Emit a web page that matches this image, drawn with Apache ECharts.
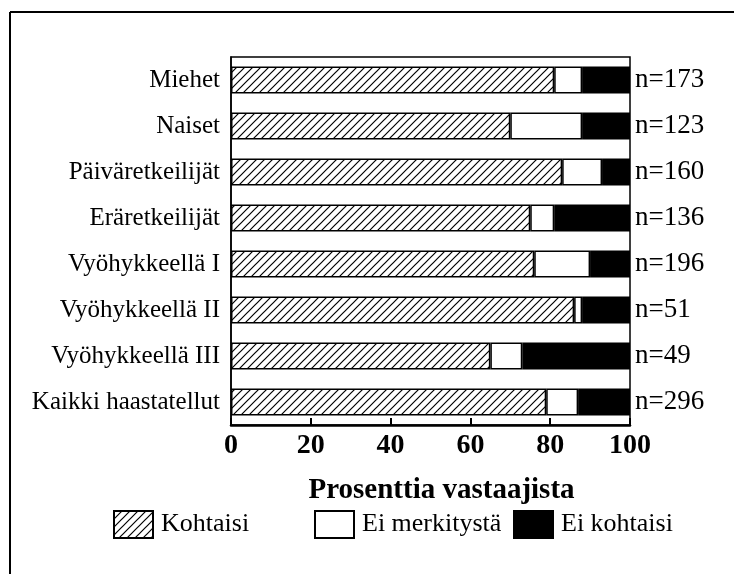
<!DOCTYPE html>
<html>
<head>
<meta charset="utf-8">
<script src="https://cdn.jsdelivr.net/npm/echarts@6/dist/echarts.min.js"></script>
<style>
  html, body { margin: 0; padding: 0; background: #fff; }
  #chart { width: 734px; height: 574px; }
</style>
</head>
<body>
<div id="chart"></div>
<script>
// data
const categories = ['Miehet', 'Naiset', 'Päiväretkeilijät', 'Eräretkeilijät',
  'Vyöhykkeellä I', 'Vyöhykkeellä II', 'Vyöhykkeellä III', 'Kaikki haastatellut'];
const nLabels = ['n=173', 'n=123', 'n=160', 'n=136', 'n=196', 'n=51', 'n=49', 'n=296'];
const kohtaisi = [81, 70, 83, 75, 76, 86, 65, 79];
const eiMerkitysta = [7, 18, 10, 6, 14, 2, 8, 8];
const eiKohtaisi = [12, 12, 7, 19, 10, 12, 27, 13];
const xTicks = [0, 20, 40, 60, 80, 100];

const FONT = '"Liberation Serif", "DejaVu Serif", serif';

// diagonal hatch tile
function hatchPattern() {
  const s = 8;
  const c = document.createElement('canvas');
  c.width = s; c.height = s;
  const ctx = c.getContext('2d');
  ctx.fillStyle = '#fff';
  ctx.fillRect(0, 0, s, s);
  ctx.strokeStyle = '#000';
  ctx.lineWidth = 1.2;
  ctx.beginPath();
  ctx.moveTo(0, s); ctx.lineTo(s, 0);
  ctx.moveTo(-1, 1); ctx.lineTo(1, -1);
  ctx.moveTo(s - 1, s + 1); ctx.lineTo(s + 1, s - 1);
  ctx.stroke();
  return { image: c, repeat: 'repeat' };
}

const chart = echarts.init(document.getElementById('chart'), null, { renderer: 'canvas' });

const barStyle = (color) => ({ color, borderColor: '#000', borderWidth: 1.5 });

const legendBase = {
  top: 505,
  icon: 'rect',
  itemWidth: 39,
  itemHeight: 27,
  textStyle: { fontFamily: FONT, fontSize: 26, color: '#000', padding: [0, 0, 0, 3] },
  selectedMode: false,
};

chart.setOption({
  backgroundColor: '#fff',
  animation: false,
  textStyle: { fontFamily: FONT },
  grid: {
    left: 231, top: 57, width: 399, height: 368,
    show: true, borderColor: '#000', borderWidth: 1.5,
  },
  legend: [
    { ...legendBase, left: 108, data: ['Kohtaisi'] },
    { ...legendBase, left: 309, data: ['Ei merkitystä'] },
    { ...legendBase, left: 508, data: ['Ei kohtaisi'] },
  ],
  xAxis: {
    type: 'value',
    min: xTicks[0],
    max: xTicks[xTicks.length - 1],
    interval: 20,
    name: 'Prosenttia vastaajista',
    nameLocation: 'middle',
    nameGap: 51,
    nameTextStyle: { fontFamily: FONT, fontSize: 29, fontWeight: 'bold', color: '#000', padding: [0, 0, 0, 22] },
    axisLine: { show: true, lineStyle: { color: '#000', width: 2.5 } },
    axisTick: { show: true, inside: true, length: 7, lineStyle: { color: '#000', width: 2 } },
    axisLabel: { fontFamily: FONT, fontSize: 28, fontWeight: 'bold', color: '#000', margin: 7 },
    splitLine: { show: false },
  },
  yAxis: [
    {
      type: 'category',
      data: categories,
      inverse: true,
      axisLine: { show: true, lineStyle: { color: '#000', width: 1.5 } },
      axisTick: { show: false },
      axisLabel: { fontFamily: FONT, fontSize: 25, color: '#000', margin: 11 },
    },
    {
      type: 'category',
      data: nLabels,
      inverse: true,
      position: 'right',
      axisLine: { show: false },
      axisTick: { show: false },
      axisLabel: { fontFamily: FONT, fontSize: 27, color: '#000', margin: 5 },
    },
  ],
  series: [
    { name: 'Kohtaisi', type: 'bar', stack: 'a', barWidth: 27, data: kohtaisi, itemStyle: barStyle(hatchPattern()) },
    { name: 'Ei merkitystä', type: 'bar', stack: 'a', barWidth: 27, data: eiMerkitysta, itemStyle: barStyle('#fff') },
    { name: 'Ei kohtaisi', type: 'bar', stack: 'a', barWidth: 27, data: eiKohtaisi, itemStyle: barStyle('#000') },
  ],
  graphic: [
    { type: 'line', shape: { x1: 10, y1: 12, x2: 734, y2: 12 }, style: { stroke: '#000', lineWidth: 2 } },
    { type: 'line', shape: { x1: 10, y1: 12, x2: 10, y2: 574 }, style: { stroke: '#000', lineWidth: 2 } },
  ],
});
</script>
</body>
</html>
